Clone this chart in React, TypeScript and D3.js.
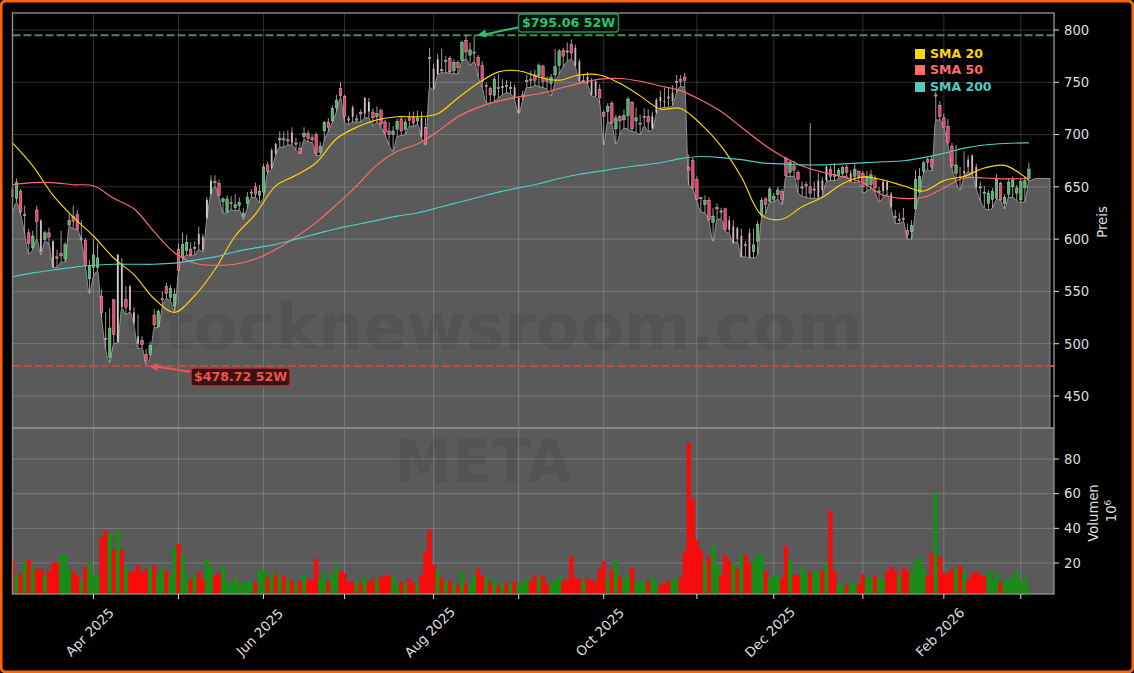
import {useEffect, useRef} from "react";
import * as d3 from "d3";

// one value per trading day
const opens = [
  648,639,646,623.5,606,592,628,618,600,606,
  598,583,586,581,613.5,622,623.5,601,599,562,
  573,573,545,505,487,542,502,576,542,555,
  530,507,503,490,490,527.5,516,543,554.5,544,
  536,590.5,582,589,590.5,592,605,602,620,643,
  655,653,636,626,635,630,632,621.5,634,645,
  650,642,645,671,685,691,696,696,695,702,
  692,687,698,701,697,700,683,703.5,712,713,
  725.5,744,736.5,715,726,715,721,735,722,721.5,
  717,723,712,703.5,700,705,715,705,716,716,
  713,716,707,774,763,758,762,771,773,761,
  769,771,790,776,779,774,766,747,744,737.5,
  745,745,747,745,745,735,738,752,753,757,
  756.5,765.5,753,749,757,766,780.5,780,786,783,
  770,752,755,751,751,743,721,722,730,705.5,
  717.5,714,718,731,713,711,717.5,717.5,706,733,
  736,732,736,740,751,753,755,669,675,657,
  640,633,637,616,630,627,629,618,612,610.5,
  603,595,606,588,598,623,638.5,636,638,642.5,
  645.5,677,664,670,664,650,652,650,648,656,
  656,656,667,662,661,662.5,669,663,660,665,
  663,651.5,652,657,646,655,655,643,621.5,619,
  620,608,607,629,645,665,676,676,738,728,
  716,708,689,663,660,665,676,680,669,650,
  645,634,638,639,653.5,634,643,650,644,637.5,
  649,658,
];
const highs = [
  655,658,648,632,610,608,632,619,608,611,
  599,590,608,597,624,632,628,618,601,580,
  600,596,552,530,534,542,586,582,555,556,
  535,528,507,495,502,533,533,550,558,556,
  553,596,606,604,597,598,612,605,640,661,
  661,657,640,642,641,643,640,630,645,648,
  654,652,672,674,687,692,703,703,704,707,
  697,693,707,704,700,702,693,713,716,728,
  738,750,738,718,728,719,724,736,735,725,
  727,725,714,712,708,715,716,715,722,722,
  723,722,716,783,768,777,782,775,775,772,
  771,790,795,788,795,776,770,750,746,756,
  758,753,752,751,748,737,742,757,761,762,
  768,767,756,758,782,782,783,788,791,786,
  772,758,760,754,752,748,723,730,732,719,
  719,724,736,732,726,719,725,724,722,735,
  742,745,745,747,757,757,759,681,678,660,
  640,642,640,630,634,630,630,622,618,612,
  610,598,610,610,617,640,640,650,644,650,
  648,679,675,675,666,655,655,711,655,663,
  659,671,670,673,668,670,671,666,672,666,
  665,665,666,661,650,657,656,645,628,625,
  630,615,618,666,668,675,678,680,741,732,
  720,715,692,690,669,684,680,681,672,655,
  651,647,649,662,655,643,658,660,652,658,
  660,673,
];
const lows = [
  624,635,624,605,586,590,600,585,598,595,
  573,573,578,578,612,610,609,598,574,548,
  565,569,525,495,482,500,501,534,528,530,
  518,495,496,480,488,515,516,535,543,541,
  531,570,580,585,584,585,590,588,620,643,
  650,641,625,625,628,627,628,619,630,640,
  640,635,640,663,667,680,688,688,690,690,
  685,682,695,693,692,680,680,695,703,712,
  722,735,712,710,712,712,712,716,716,708,
  712,707,700,690,684,698,699,700,708,708,
  710,697,690,745,743,757,759,759,759,758,
  758,770,772,766,770,755,745,730,730,732,
  735,738,740,739,733,720,733,745,745,747,
  746,745,743,737,750,758,765,770,772,765,
  751,750,748,737,736,730,690,712,710,691,
  700,706,705,703,702,700,708,703,705,720,
  725,726,726,728,740,746,745,652,648,637,
  626,625,617,598,619,619,608,605,597,597,
  583,583,582,582,585,620,625,635,636,638,
  633,660,660,660,645,641,640,639,639,639,
  642,655,656,656,658,660,660,655,654,655,
  644,646,648,645,636,640,643,630,615,615,
  617,600,600,628,644,663,666,665,714,714,
  707,691,668,655,647,660,664,662,648,637,
  630,628,630,638,637,629,640,640,637,635,
  636,655,
];
const closes = [
  640,654,626,623,596,603,617,588,606,602,
  573,582,584,595,618,617,609,600,575,575,
  585,582,530,504,515,509,585,535,535,532,
  520,500,499,483,498.5,518,531,542,548,553,
  547.5,570,595,597,585,592,595,590,637.5,656,
  654,642,638.5,638.5,634,633,635,625,640,645,
  643,646,669,665,668,682,696,695,694,692,
  691,682,701,696,695,682,689,711.5,707,725,
  733,737,717.5,714,717,714.5,720,720,731,716,
  720,710,702,700,703.5,712.5,703.5,712,713.5,711,
  716,698,691,773,744,772,761,770,760,769,
  764,788,779,781,778.5,766,751,746.5,738,753,
  744,746,746,745,736,721,736,751,752,752,
  766,751,750.5,755,765,780,775,780,778,766,
  751,751,749,738,737,735,717.5,727,711,716,
  713,718,734,705.5,716,710,717,712,717.5,721,
  732,731,735,732,750,751,752,666,649,638,
  639,637,618.5,622,629,627,609,609,596,600,
  583,594,582,594.5,614,637,633,648,641,647,
  637.5,661,673.5,666,657,650,651,644,648,640,
  647,669,660,660,666,668.5,664,655,667,660,
  650,660,661.5,649,646,646,647,631,621,618,
  619,604,613,657,660,673,673.5,669,737,717,
  707,692.5,670,671,659,663,669,663,650,650,
  645,644,645.5,657,637.5,640,654.5,656.5,649,655,
  656,667,
];
const volumes = [
  22,14,14,21,22,17,16.5,16.7,12.6,15.5,
  20,20.5,24,25,16,15.5,12.6,10,18,21,
  13.5,13.5,35,38.7,37,28,39,28,18,14.6,
  15.5,19,14.6,16.3,17,18.4,14,17,15.5,12,
  29.4,31,24.6,14,11,13,15,10.7,21.7,18,
  12.6,14.4,18.6,9.7,7.4,11.5,8.2,8.6,9.3,9,
  9.1,16,16,11.7,14.4,13.2,12,12.8,10.5,9.7,
  7.6,9.3,14,10.5,10.5,22.5,10.9,14,9.3,13.6,
  19,15.5,14,9,9,9.7,8.2,11.5,9.7,10.9,
  10.1,11.7,13.2,12.4,12.4,7.8,9.3,8.6,10.9,8.6,
  8.6,13.2,27,39,19,16,11.7,9.7,9.3,7.8,
  7.4,14.4,8.6,7.8,13,16.7,12.4,11.7,9.3,10.9,
  7,7.8,8.6,7.8,9.3,8.6,8.2,11.3,9.7,13.2,
  11.3,12.8,7.8,8.2,10,12,9.7,10.5,23.7,11.7,
  10.9,9.7,10.9,10,9,16.3,21,11.7,16.3,22,
  12,11,12.4,17,9,9,10,9.3,12,9,
  7.4,8.6,9.7,10,11.7,12,27,89.4,57,33,
  27.5,20,23.7,30,19,13.2,24.8,21.3,20.4,16.7,
  25,24.8,20.5,21.3,24,25.2,15.5,10.9,13.2,12.4,
  11.3,30,21.3,13.2,13.2,17,13.6,14.4,15,14.4,
  15.5,19.8,50.3,15.5,8.2,7,7.4,8.6,9,7.8,
  13.6,12,11.7,12.4,11.7,11.3,14.8,17.8,15.5,13.2,
  17,15.5,14.4,21.3,23,16.7,13.2,26,60,23.7,
  14.4,13.6,16.7,17,18.6,14.8,10.5,14.4,14.8,12.8,
  12.4,14.8,10.5,14.4,8.6,10.5,11.3,11.3,15.5,9.3,
  12,5,
];
// r = down day, g = up day, same order as volumes
const volumeSides = (
  "rgrgrgrrgr" + "rrgggrrgrg" + "ggrrgrgrgr" + "rrrrgrggrg" + "grggrgrrgg" +
  "rrgggggggg" + "rggrgrgrgr" + "grgrrrggrg" + "grrrrgrgrr" + "grrrggrgrr" +
  "grrrrgrgrg" + "rgrggrrgrg" + "rgrgrgggrr" + "grrgggrrrr" + "rgrrrrrgrg" +
  "rggrgggrgg" + "rrrggrrrrr" + "rgrggrrrgr" + "grrgggrggg" + "rrgrrggrgg" +
  "rgrrggrggr" + "rggrggrrrg" + "rrggggrrgr" + "rrrgrgrrrr" + "rgggrggggg" + "gg"
).split("");
// candles that look washed out in the picture (thin bodies)
const paleCandles = [
  0,7,10,26,27,29,30,31,46,47,48,49,64,65,69,84,87,88,101,104,105,124,125,139,140,
  142,143,144,158,159,160,161,163,177,178,179,180,182,199,200,201,207,215,216,217,
  234,235,236,237,238,
];

// moving averages, read every fifth day plus the last day
const smaDays = [...d3.range(0, 251, 5), 251];
const sma20 = [
  692,670,642,621,603,582,566,543,530,546,571,603,624,651,661,673,696,707,714,717,
  717,720,735,749,760,761,755,752,757,757,749,737,724.5,725,710,689,659.5,623,619,631,
  640,653,659.5,656.6,651,646,656,660,668,670.5,659.5,656,
];
const sma50 = [
  652,654,654,652,651,639,629,607,587,577,575,576,581,590,602,616,633,651,671,684,
  691,703,717,726,732,736,739,744,749,753,753.6,751,746.5,742,733,722,707,692,679.5,670,
  664,659.5,654,642,639,640,649,658.5,658.5,657.6,658,658.5,
];
const sma200 = [
  564,567.7,570.5,573,575,576,576,576,577,580,583,588,591.6,595,600,605,610,614,618,622,
  625,630,635,640,645,649,653,658,662,665,668,670.5,673,677,679,678,676,673,672,671,
  671,672,673,674,675,678,682,687,690,691.5,692,692,
];

const priceTicks = [450,500,550,600,650,700,750,800];
const volumeTicks = [20,40,60,80];
const monthTicks = [20,41,62,82,104,125,146,169,188,210,230,249];
const monthLabels = [
  {day: 20, text: "Apr 2025"},
  {day: 62, text: "Jun 2025"},
  {day: 104, text: "Aug 2025"},
  {day: 146, text: "Oct 2025"},
  {day: 188, text: "Dec 2025"},
  {day: 230, text: "Feb 2026"},
];
const legendItems = [
  {name: "SMA 20", color: "#ffd700", values: sma20},
  {name: "SMA 50", color: "#ff6b6b", values: sma50},
  {name: "SMA 200", color: "#4ecdc4", values: sma200},
];
const high52 = 795.06;
const low52 = 478.72;
const lastDay = 251;
const areaEndDay = 256.2; // grey area runs past the last candle, flat
const font = "'DejaVu Sans', sans-serif";

export default function App() {
  const svgRef = useRef<SVGSVGElement | null>(null);

  useEffect(() => {
    document.body.style.margin = "0";
    document.body.style.background = "#000";

    const width = 1134;
    const height = 673;
    const left = 12.5, right = 1054, top = 13, middle = 428, bottom = 594;

    const svg = d3.select(svgRef.current)
        .attr("width", width)
        .attr("height", height)
        .style("display", "block");
    svg.selectAll("*").remove();

    svg.append("clipPath").attr("id", "panel")
        .append("rect")
        .attr("x", left).attr("y", top)
        .attr("width", right - left).attr("height", bottom - top);

    const x = d3.scaleLinear().domain([0, 257.2]).range([left, right]);
    const y = d3.scaleLinear().domain([450, 800]).range([396, 30]);
    const yVol = d3.scaleLinear().domain([20, 80]).range([563, 459]);

    svg.append("rect").attr("width", width).attr("height", height).attr("fill", "#000");

    // grey area, follows the daily lows
    const areaDays = [...lows.map((d, i) => ({day: i, value: d})), {day: lastDay + 2, value: 658}, {day: areaEndDay, value: 658}];
    const area = d3.area<{day: number, value: number}>()
        .x(d => x(d.day))
        .y0(middle)
        .y1(d => y(d.value))
        .curve(d3.curveMonotoneX);
    const areaLine = d3.line<{day: number, value: number}>()
        .x(d => x(d.day))
        .y(d => y(d.value))
        .curve(d3.curveMonotoneX);
    svg.append("path").attr("d", area(areaDays)).attr("fill", "#5a5a5a");
    svg.append("path").attr("d", areaLine(areaDays))
        .attr("fill", "none").attr("stroke", "#9c9c9c").attr("stroke-width", 0.9);
    svg.append("line")
        .attr("x1", x(areaEndDay)).attr("x2", x(areaEndDay))
        .attr("y1", y(658)).attr("y2", middle)
        .attr("stroke", "#9c9c9c").attr("stroke-width", 0.9);

    // lower panel is all grey
    svg.append("rect")
        .attr("x", left).attr("y", middle)
        .attr("width", right - left).attr("height", bottom - middle)
        .attr("fill", "#5a5a5a");

    // grid
    const grid = svg.append("g").attr("stroke", "#fff").attr("stroke-opacity", 0.18).attr("stroke-width", 1);
    grid.selectAll(".gx").data(monthTicks).enter().append("line")
        .attr("x1", d => x(d)).attr("x2", d => x(d))
        .attr("y1", top).attr("y2", bottom);
    grid.selectAll(".gy").data(priceTicks).enter().append("line")
        .attr("x1", left).attr("x2", right)
        .attr("y1", d => y(d)).attr("y2", d => y(d));
    grid.selectAll(".gv").data(volumeTicks).enter().append("line")
        .attr("x1", left).attr("x2", right)
        .attr("y1", d => yVol(d)).attr("y2", d => yVol(d));

    // watermarks
    svg.append("text")
        .attr("x", 494).attr("y", 349)
        .attr("text-anchor", "middle")
        .attr("font-family", font).attr("font-weight", "bold").attr("font-size", 64)
        .attr("fill", "#000").attr("fill-opacity", 0.075)
        .text("stocknewsroom.com");
    svg.append("text")
        .attr("x", 483).attr("y", 482)
        .attr("text-anchor", "middle")
        .attr("font-family", font).attr("font-weight", "bold").attr("font-size", 58)
        .attr("fill", "#000").attr("fill-opacity", 0.075)
        .text("META");

    // 52 week lines
    svg.append("line")
        .attr("x1", left).attr("x2", right)
        .attr("y1", y(high52)).attr("y2", y(high52))
        .attr("stroke", "#3f8f5f").attr("stroke-width", 2).attr("stroke-dasharray", "8 3");
    svg.append("line")
        .attr("x1", left).attr("x2", right)
        .attr("y1", y(low52)).attr("y2", y(low52))
        .attr("stroke", "#bd4a4f").attr("stroke-width", 2).attr("stroke-dasharray", "8 3");

    // volume bars
    svg.append("g").attr("clip-path", "url(#panel)")
        .selectAll("rect").data(volumes).enter().append("rect")
        .attr("x", (_, i) => x(i) - 2.1)
        .attr("width", 4.2)
        .attr("y", d => yVol(d))
        .attr("height", d => bottom - yVol(d))
        .attr("fill", (_, i) => volumeSides[i] === "r" ? "#fb0a0a" : "#178f17");

    // candles
    const candles = svg.append("g").selectAll("g").data(closes).enter().append("g");
    candles.append("line")
        .attr("x1", (_, i) => x(i)).attr("x2", (_, i) => x(i))
        .attr("y1", (_, i) => y(highs[i])).attr("y2", (_, i) => y(lows[i]))
        .attr("stroke", "#c4c4c4").attr("stroke-width", 0.8);
    candles.append("rect")
        .attr("x", (_, i) => x(i) - (paleCandles.includes(i) ? 0.9 : 1.3))
        .attr("width", (_, i) => paleCandles.includes(i) ? 1.8 : 2.6)
        .attr("y", (d, i) => y(Math.max(d, opens[i])))
        .attr("height", (d, i) => Math.max(1.2, Math.abs(y(d) - y(opens[i]))))
        .attr("fill", (d, i) => {
          const up = d >= opens[i];
          if (paleCandles.includes(i)) return up ? "#c2dcc6" : "#d9b3bf";
          return up ? "#4cb863" : "#f23d6d";
        })
        .attr("stroke", (_, i) => paleCandles.includes(i) ? "none" : "#d9d9d9")
        .attr("stroke-width", 0.4);

    // moving averages
    const smaLine = d3.line<number>()
        .x((_, i) => x(smaDays[i]))
        .y(d => y(d))
        .curve(d3.curveCatmullRom.alpha(0.5));
    legendItems.forEach(item => {
      svg.append("path").attr("d", smaLine(item.values))
          .attr("fill", "none").attr("stroke", item.color).attr("stroke-width", 1.15);
    });

    // 52 week labels with arrows
    const addNote = (text: string, color: string, border: string, bg: string,
                     box: number[], from: number[], to: number[]) => {
      svg.append("line")
          .attr("x1", from[0]).attr("y1", from[1])
          .attr("x2", to[0] + 4).attr("y2", to[1])
          .attr("stroke", color).attr("stroke-width", 2);
      const angle = Math.atan2(to[1] - from[1], to[0] - from[0]);
      const head = d3.path();
      head.moveTo(to[0], to[1]);
      head.lineTo(to[0] - 10 * Math.cos(angle - 0.42), to[1] - 10 * Math.sin(angle - 0.42));
      head.lineTo(to[0] - 10 * Math.cos(angle + 0.42), to[1] - 10 * Math.sin(angle + 0.42));
      head.closePath();
      svg.append("path").attr("d", head.toString()).attr("fill", color);
      svg.append("rect")
          .attr("x", box[0]).attr("y", box[1]).attr("width", box[2]).attr("height", box[3])
          .attr("rx", 3)
          .attr("fill", bg).attr("stroke", border).attr("stroke-width", 1.4);
      svg.append("text")
          .attr("x", box[0] + box[2] / 2).attr("y", box[1] + box[3] / 2 + 4.4)
          .attr("text-anchor", "middle")
          .attr("font-family", font).attr("font-weight", "bold").attr("font-size", 12.6)
          .attr("fill", color)
          .text(text);
    };
    addNote("$795.06 52W", "#2fc06f", "#1f8f52", "#04140d", [518.5, 14, 100, 18], [520, 27], [477, y(high52)]);
    addNote("$478.72 52W", "#ef5350", "#a83a3a", "#3a1414", [191, 368, 99, 18], [192, 372], [149, y(low52)]);

    // legend
    const legend = svg.append("g").selectAll("g").data(legendItems).enter().append("g");
    legend.append("rect")
        .attr("x", 915).attr("width", 10).attr("height", 10)
        .attr("y", (_, i) => [49, 65, 82][i])
        .attr("fill", d => d.color);
    legend.append("text")
        .attr("x", 930).attr("y", (_, i) => [58, 74, 91][i])
        .attr("font-family", font).attr("font-weight", "bold").attr("font-size", 12.5)
        .attr("fill", d => d.color)
        .text(d => d.name);

    // frames
    svg.append("rect")
        .attr("x", left).attr("y", top).attr("width", right - left).attr("height", middle - top)
        .attr("fill", "none").attr("stroke", "#8c8c8c").attr("stroke-width", 1.4);
    svg.append("rect")
        .attr("x", left).attr("y", middle).attr("width", right - left).attr("height", bottom - middle)
        .attr("fill", "none").attr("stroke", "#8c8c8c").attr("stroke-width", 1.4);

    // right axes
    const axisText = "#dedede";
    const rightAxis = (ticks: number[], scale: d3.ScaleLinear<number, number>) => {
      const g = svg.append("g");
      g.selectAll("line").data(ticks).enter().append("line")
          .attr("x1", right).attr("x2", right + 5)
          .attr("y1", d => scale(d)).attr("y2", d => scale(d))
          .attr("stroke", axisText).attr("stroke-width", 1);
      g.selectAll("text").data(ticks).enter().append("text")
          .attr("x", right + 10).attr("y", d => scale(d) + 4.8)
          .attr("font-family", font).attr("font-size", 13.2)
          .attr("fill", axisText)
          .text(d => d);
    };
    rightAxis(priceTicks, y);
    rightAxis(volumeTicks, yVol);

    const sideLabel = (text: string, px: number, py: number) =>
      svg.append("text")
          .attr("transform", `translate(${px},${py}) rotate(-90)`)
          .attr("text-anchor", "middle")
          .attr("font-family", font).attr("font-size", 13.2)
          .attr("fill", axisText)
          .text(text);
    sideLabel("Preis", 1107, 222);
    sideLabel("Volumen", 1098, 513);
    const power = sideLabel("10", 1116, 511);
    power.append("tspan").attr("dy", -5).attr("font-size", 9).text("6");

    // bottom axis
    const bottomTicks = svg.append("g");
    bottomTicks.selectAll("line").data(monthTicks).enter().append("line")
        .attr("x1", d => x(d)).attr("x2", d => x(d))
        .attr("y1", bottom).attr("y2", bottom + 5)
        .attr("stroke", axisText).attr("stroke-width", 1);
    bottomTicks.selectAll("text").data(monthLabels).enter().append("text")
        .attr("transform", d => `translate(${x(d.day) - 0.5},${635.5}) rotate(-45)`)
        .attr("text-anchor", "middle")
        .attr("font-family", font).attr("font-size", 13.4)
        .attr("fill", axisText)
        .text(d => d.text);

    // orange outer border
    svg.append("rect")
        .attr("x", 1).attr("y", 1).attr("width", width - 2).attr("height", height - 2)
        .attr("rx", 5)
        .attr("fill", "none").attr("stroke", "#ff6600").attr("stroke-width", 3);
  }, []);

  return <svg ref={svgRef} />;
}
